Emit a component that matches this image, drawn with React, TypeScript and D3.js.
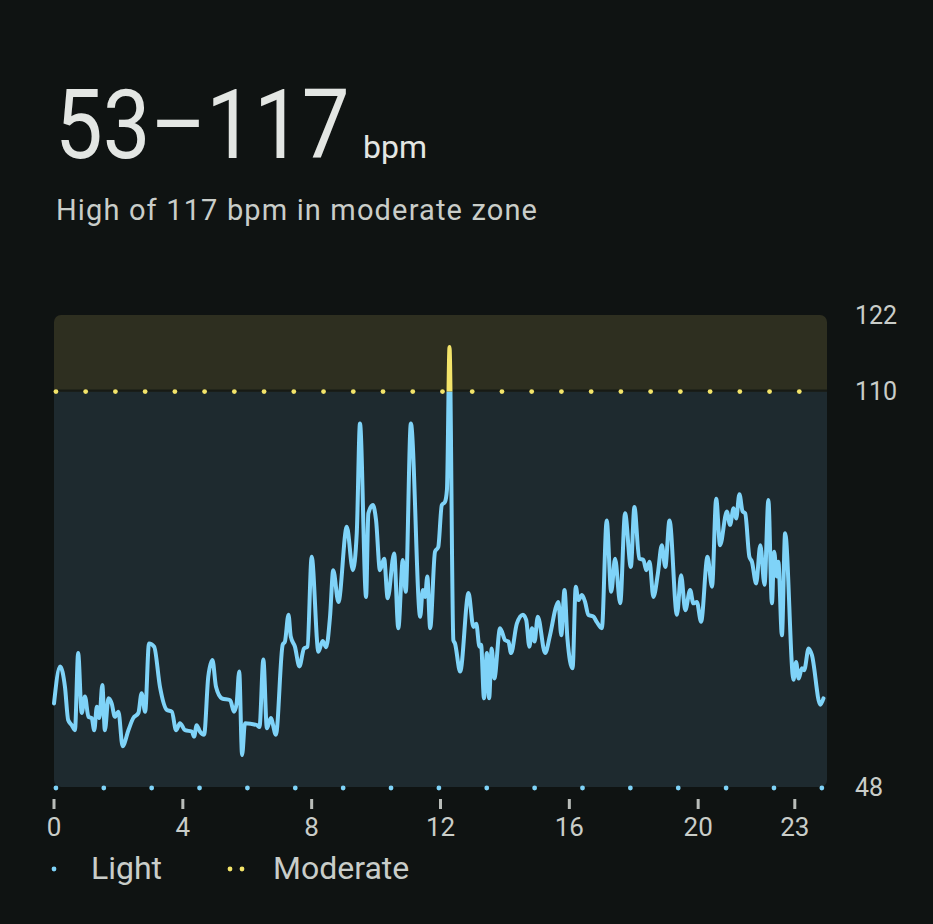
import React from 'react';
import * as d3 from 'd3';

// heart-rate samples (hour of day, bpm)
const hours = [
  0.0, 0.19, 0.34, 0.44, 0.55, 0.65, 0.75, 0.86, 0.96, 1.07, 1.17, 1.25, 1.33, 1.41, 1.5, 1.58, 1.69, 1.79, 1.89, 2.0,
  2.13, 2.31, 2.46, 2.62, 2.72, 2.83, 2.95, 3.11, 3.29, 3.5, 3.66, 3.79, 3.91, 4.07, 4.28, 4.35, 4.43, 4.53, 4.66, 4.79,
  4.92, 5.03, 5.21, 5.47, 5.59, 5.67, 5.75, 5.84, 5.93, 6.3, 6.38, 6.5, 6.61, 6.73, 6.89, 7.1, 7.17, 7.28, 7.35, 7.48,
  7.62, 7.76, 7.87, 8.0, 8.21, 8.34, 8.45, 8.57, 8.67, 8.83, 9.09, 9.28, 9.4, 9.5, 9.69, 9.76, 9.9, 10.0, 10.12, 10.25,
  10.36, 10.56, 10.69, 10.83, 10.92, 11.08, 11.37, 11.45, 11.52, 11.59, 11.68, 11.83, 11.93, 12.04, 12.14, 12.2, 12.28, 12.4, 12.45, 12.61,
  12.87, 13.02, 13.11, 13.21, 13.26, 13.35, 13.44, 13.51, 13.59, 13.67, 13.85, 14.01, 14.11, 14.19, 14.37, 14.56, 14.66, 14.76, 14.84, 14.92,
  15.02, 15.25, 15.4, 15.59, 15.66, 15.75, 15.85, 15.94, 16.1, 16.2, 16.28, 16.39, 16.49, 16.59, 16.75, 16.85, 17.01, 17.16, 17.3, 17.42,
  17.58, 17.73, 17.91, 18.02, 18.17, 18.3, 18.39, 18.49, 18.61, 18.75, 18.87, 18.98, 19.11, 19.34, 19.47, 19.6, 19.75, 19.85, 19.96, 20.09,
  20.29, 20.43, 20.56, 20.68, 20.89, 20.99, 21.1, 21.18, 21.28, 21.38, 21.46, 21.59, 21.67, 21.8, 21.93, 22.06, 22.18, 22.29, 22.36, 22.44,
  22.49, 22.6, 22.7, 22.96, 23.04, 23.12, 23.22, 23.29, 23.43, 23.53, 23.79, 23.89,
];
const bpm = [
  61.1, 66.9, 63.7, 58.5, 57.7, 56.9, 69.0, 59.6, 62.2, 59.0, 58.8, 56.9, 60.6, 58.8, 64.0, 56.9, 61.9, 61.1, 59.0, 59.8,
  54.4, 56.9, 58.8, 59.6, 62.7, 59.8, 70.5, 70.0, 63.7, 60.1, 59.8, 56.9, 58.0, 56.9, 56.7, 55.9, 57.7, 56.7, 56.2, 65.3,
  67.9, 63.7, 61.9, 61.6, 59.8, 61.1, 66.1, 53.0, 58.0, 57.7, 57.4, 68.0, 57.2, 58.8, 56.2, 70.3, 70.8, 75.0, 71.6, 70.0,
  66.9, 69.7, 70.0, 84.1, 69.2, 70.9, 69.9, 74.7, 82.0, 77.0, 88.8, 82.0, 87.8, 105.0, 77.8, 90.9, 92.2, 89.8, 82.0, 83.8,
  77.6, 84.6, 72.9, 83.6, 78.6, 105.0, 74.7, 78.9, 77.8, 81.0, 72.9, 84.9, 85.6, 92.2, 92.7, 94.6, 117.0, 71.0, 70.5, 66.1,
  78.4, 73.1, 73.6, 70.0, 70.3, 61.9, 69.0, 61.9, 69.7, 65.0, 72.9, 71.0, 70.8, 69.0, 73.6, 75.0, 74.2, 70.0, 72.9, 70.8,
  74.7, 69.0, 71.8, 76.3, 77.0, 71.8, 78.9, 71.3, 66.6, 79.4, 77.3, 78.1, 77.0, 75.0, 74.7, 73.9, 72.9, 89.8, 78.6, 83.8,
  76.8, 90.9, 82.5, 91.9, 83.8, 83.6, 82.0, 83.3, 77.8, 81.5, 85.9, 82.5, 89.8, 75.0, 81.2, 75.7, 78.9, 76.8, 77.0, 73.9,
  84.1, 79.4, 93.2, 85.9, 91.2, 89.1, 91.7, 90.1, 93.9, 91.2, 90.9, 84.1, 83.3, 79.9, 85.9, 79.7, 93.0, 76.8, 84.9, 81.0,
  83.3, 71.8, 87.8, 64.8, 67.6, 65.0, 66.6, 66.3, 69.7, 68.7, 60.9, 61.9,
];

const xTicks = [0, 4, 8, 12, 16, 20, 23];
const yTicks = [48, 110, 122];
const zoneMin = 48;
const moderateStart = 110;
const zoneMax = 122;
const lightDotCount = 17;
const moderateDotCount = 26;

const W = 933;
const H = 924;
const plot = { left: 54, right: 827, top: 315, bottom: 787 };

const BG = '#0f1312';
const LIGHT = '#7fd3f8';
const MODERATE = '#f3e46a';
const LABEL = '#c9cdc9';

export default function App() {
  const x = d3.scaleLinear().domain([0, 24]).range([plot.left, plot.right]);
  const y = d3.scaleLinear().domain([zoneMin, zoneMax]).range([plot.bottom, plot.top]);

  const points = hours.map((h, i) => [h, bpm[i]] as [number, number]);
  const line = d3
    .line<[number, number]>()
    .x(d => x(d[0]))
    .y(d => y(d[1]))
    .curve(d3.curveMonotoneX);
  const path = line(points) || '';

  const lightDots = d3.range(lightDotCount).map(i => 0.06 + (i * 23.78) / (lightDotCount - 1));
  const moderateDots = d3.range(moderateDotCount).map(i => 0.06 + (i * 23.08) / (moderateDotCount - 1));

  const y110 = y(moderateStart);

  return (
    <svg
      width={W}
      height={H}
      style={{ position: 'absolute', left: 0, top: 0, background: BG, fontFamily: 'Roboto, sans-serif' }}
    >
      <rect width={W} height={H} fill={BG} />
      <defs>
        <clipPath id="plotClip">
          <rect x={plot.left} y={plot.top} width={plot.right - plot.left} height={plot.bottom - plot.top} rx={7} />
        </clipPath>
        <clipPath id="aboveClip">
          <rect x={0} y={0} width={W} height={y110} />
        </clipPath>
        <clipPath id="belowClip">
          <rect x={0} y={y110} width={W} height={H - y110} />
        </clipPath>
      </defs>

      {/* header */}
      <text transform="translate(55,158) scale(0.885,1)" fill="#e3e6e3" fontSize={96}>
        53–117
      </text>
      <text x={363} y={158} fill="#e3e6e3" fontSize={32}>
        bpm
      </text>
      <text x={56} y={220} fill={LABEL} fontSize={29} textLength={481} lengthAdjust="spacing">
        High of 117 bpm in moderate zone
      </text>

      {/* zones */}
      <g clipPath="url(#plotClip)">
        <rect x={plot.left} y={plot.top} width={plot.right - plot.left} height={y110 - plot.top} fill="#2e2f20" />
        <rect x={plot.left} y={y110} width={plot.right - plot.left} height={plot.bottom - y110} fill="#1e2a2f" />
        <rect x={plot.left} y={y110 - 2} width={plot.right - plot.left} height={2} fill="#171a15" />
      </g>

      {/* zone boundary dots */}
      {moderateDots.map((h, i) => (
        <circle key={'m' + i} cx={x(h)} cy={y110} r={2.4} fill={MODERATE} />
      ))}
      {lightDots.map((h, i) => (
        <circle key={'l' + i} cx={x(h)} cy={plot.bottom + 1} r={2.4} fill={LIGHT} />
      ))}

      {/* heart-rate line */}
      <path d={path} fill="none" stroke={LIGHT} strokeWidth={4} strokeLinejoin="round" strokeLinecap="round" clipPath="url(#belowClip)" />
      <path d={path} fill="none" stroke={MODERATE} strokeWidth={4} strokeLinejoin="round" strokeLinecap="round" clipPath="url(#aboveClip)" />

      {/* y labels */}
      {yTicks.map(t => (
        <text key={t} x={855} y={y(t)} dy="0.35em" fill={LABEL} fontSize={25}>
          {t}
        </text>
      ))}

      {/* x axis */}
      {xTicks.map(t => (
        <g key={t} transform={`translate(${x(t)},0)`}>
          <rect x={-1.5} y={799} width={3} height={10} fill="#b9bdb9" />
          <text y={836} textAnchor="middle" fill={LABEL} fontSize={26}>
            {t}
          </text>
        </g>
      ))}

      {/* legend */}
      <circle cx={54} cy={869} r={2.4} fill={LIGHT} />
      <text x={91} y={879} fill={LABEL} fontSize={32}>
        Light
      </text>
      <circle cx={230} cy={869} r={2.4} fill={MODERATE} />
      <circle cx={242} cy={869} r={2.4} fill={MODERATE} />
      <text x={273} y={879} fill={LABEL} fontSize={32}>
        Moderate
      </text>
    </svg>
  );
}
